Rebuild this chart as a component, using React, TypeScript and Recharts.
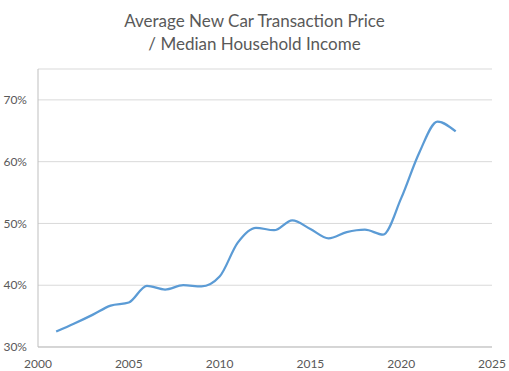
import React from 'react';
import { LineChart, Line, XAxis, YAxis, CartesianGrid } from 'recharts';

const years = [2001, 2002, 2003, 2004, 2005, 2006, 2007, 2008, 2009, 2010, 2011, 2012, 2013, 2014, 2015, 2016, 2017, 2018, 2019, 2020, 2021, 2022, 2023];
const ratio = [0.325, 0.338, 0.352, 0.367, 0.372, 0.399, 0.393, 0.4, 0.398, 0.414, 0.469, 0.493, 0.489, 0.505, 0.491, 0.476, 0.486, 0.49, 0.482, 0.541, 0.615, 0.665, 0.649];
const xTicks = [2000, 2005, 2010, 2015, 2020, 2025];
const yTicks = [0.3, 0.4, 0.5, 0.6, 0.7];
const titleLines = ['Average New Car Transaction Price', '/ Median Household Income'];

const data = years.map((year, i) => ({ year, ratio: ratio[i] }));

const tickStyle = { fill: '#595959', fontSize: 12, fontFamily: 'Lato, "Open Sans", sans-serif' };

export default function App() {
  return (
    <div style={{ position: 'absolute', left: 0, top: 0, width: 509, height: 371, background: '#fff' }}>
      <div
        style={{
          position: 'absolute',
          top: 9,
          left: 0,
          width: 509,
          textAlign: 'center',
          color: '#595959',
          fontFamily: 'Lato, "Open Sans", sans-serif',
          fontSize: 17,
          lineHeight: '23px',
        }}
      >
        {titleLines.map((t) => (
          <div key={t}>{t}</div>
        ))}
      </div>
      <LineChart width={509} height={371} data={data} margin={{ top: 69, right: 17, bottom: 0, left: 0 }}>
        <CartesianGrid vertical={false} stroke="#d9d9d9" />
        <XAxis
          dataKey="year"
          type="number"
          domain={[2000, 2025]}
          ticks={xTicks}
          tickLine={false}
          axisLine={{ stroke: '#bfbfbf' }}
          tick={tickStyle}
          height={24}
          tickMargin={6}
        />
        <YAxis
          type="number"
          domain={[0.3, 0.75]}
          ticks={yTicks}
          tickLine={false}
          axisLine={{ stroke: '#bfbfbf' }}
          tick={tickStyle}
          width={38}
          tickMargin={5}
          tickFormatter={(v: number) => `${Math.round(v * 100)}%`}
        />
        <Line
          type="monotone"
          dataKey="ratio"
          stroke="#5b9bd5"
          strokeWidth={2.25}
          dot={false}
          isAnimationActive={false}
        />
      </LineChart>
    </div>
  );
}
